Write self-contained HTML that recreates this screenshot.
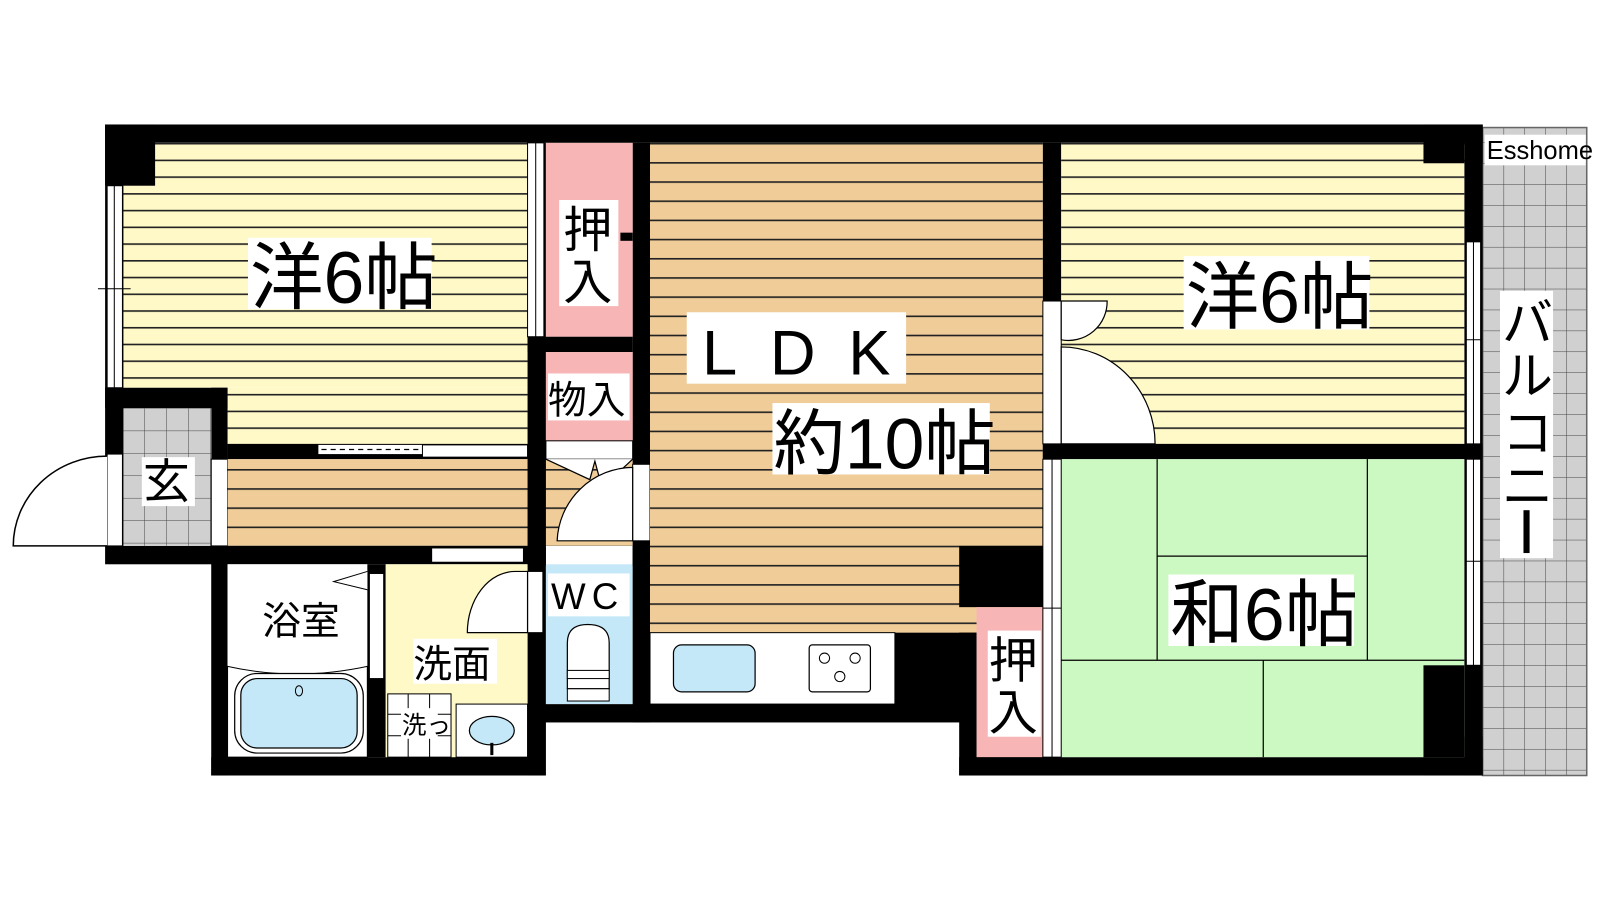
<!DOCTYPE html>
<html><head><meta charset="utf-8"><style>
html,body{margin:0;padding:0;background:#fff;width:1600px;height:900px;overflow:hidden}
svg{display:block}
text{font-family:"Liberation Sans","Noto Sans CJK JP",sans-serif;fill:#000}
</style></head><body>
<svg width="1600" height="900" viewBox="0 0 1568 882" preserveAspectRatio="none" xmlns="http://www.w3.org/2000/svg">
<defs>
<pattern id="ly" x="0" y="140" width="20" height="16.4" patternUnits="userSpaceOnUse"><rect width="20" height="16.4" fill="#fff9c8"/><rect y="0" width="20" height="1.6" fill="#222"/></pattern>
<pattern id="lo" x="0" y="140" width="20" height="18.8" patternUnits="userSpaceOnUse"><rect width="20" height="18.8" fill="#efcc98"/><rect y="0" width="20" height="1.6" fill="#222"/></pattern>
<pattern id="gr" x="120" y="400" width="21.5" height="22" patternUnits="userSpaceOnUse"><rect width="21.5" height="22" fill="#d0d0d0"/><path d="M0 0H21.5M0 0V22" stroke="#444" stroke-width="1"/></pattern>
<pattern id="gb" x="1453" y="160" width="20.5" height="20.5" patternUnits="userSpaceOnUse"><rect width="20.5" height="20.5" fill="#d0d0d0"/><path d="M0 0H20.5M0 0V20.5" stroke="#444" stroke-width="1"/></pattern>
</defs>

<!-- balcony -->
<rect x="1453" y="125" width="102" height="635" fill="url(#gb)" stroke="#666" stroke-width="1.5"/>
<rect x="1455" y="132" width="99" height="30" fill="#fff"/>
<text x="1457" y="156" font-size="25">Esshome</text>

<!-- main black outline -->
<rect x="103" y="122" width="1350" height="18" fill="#000"/>
<rect x="103" y="122" width="18" height="413" fill="#000"/>
<rect x="1435" y="122" width="18" height="638" fill="#000"/>
<rect x="1395" y="122" width="58" height="38" fill="#000"/>
<rect x="1395" y="722" width="58" height="38" fill="#000"/>
<rect x="103" y="535" width="430" height="18" fill="#000"/>
<rect x="207" y="535" width="16" height="225" fill="#000"/>
<rect x="207" y="742" width="326" height="18" fill="#000"/>
<rect x="517" y="535" width="18" height="225" fill="#000"/>
<rect x="517" y="690" width="440" height="18" fill="#000"/>
<rect x="940" y="535" width="100" height="225" fill="#000"/>
<rect x="940" y="742" width="513" height="18" fill="#000"/>

<!-- western room left -->
<rect x="121" y="140" width="396" height="240" fill="url(#ly)"/>
<rect x="223" y="380" width="294" height="55" fill="url(#ly)"/>
<rect x="103" y="122" width="49" height="60" fill="#000"/>
<rect x="103" y="380" width="120" height="20" fill="#000"/>
<rect x="207" y="380" width="16" height="70" fill="#000"/>
<rect x="223" y="435" width="294" height="15" fill="#000"/>
<rect x="312" y="436" width="102" height="9" fill="#fff"/>
<path d="M315 440.5H412" stroke="#000" stroke-width="1.2" stroke-dasharray="5,4"/>
<rect x="414" y="436" width="103" height="12" fill="#fff" stroke="#000" stroke-width="1"/>
<!-- window left -->
<rect x="105" y="182" width="15" height="198" fill="#fff" stroke="#000" stroke-width="1"/>
<path d="M112 182V380M96 283H128" stroke="#000" stroke-width="1"/>
<rect x="243" y="233" width="180" height="70" fill="#fff"/>
<text x="245" y="297" font-size="72">洋6帖</text>

<!-- genkan -->
<rect x="121" y="400" width="86" height="135" fill="url(#gr)"/>
<rect x="105" y="445" width="15" height="90" fill="#fff" stroke="#000" stroke-width="1"/>
<rect x="207" y="450" width="16" height="85" fill="#fff" stroke="#000" stroke-width="1"/>
<path d="M105 447A92 88 0 0 0 13 535H105" fill="#fff" stroke="#000" stroke-width="1.5"/>
<rect x="139" y="448" width="52" height="48" fill="#fff"/>
<text x="140" y="488" font-size="46">玄</text>

<!-- hall -->
<rect x="223" y="450" width="397" height="85" fill="url(#lo)"/>

<!-- closets -->
<rect x="517" y="140" width="18" height="415" fill="#000"/>
<rect x="620" y="140" width="17" height="415" fill="#000"/>
<rect x="517" y="140" width="16" height="190" fill="#fff" stroke="#000" stroke-width="1"/>
<path d="M525 140V330" stroke="#000" stroke-width="1"/>
<rect x="535" y="140" width="85" height="190" fill="#f7b5b5"/>
<rect x="548" y="196" width="58" height="104" fill="#fff"/>
<rect x="608" y="228" width="12" height="8" fill="#000"/>
<text x="552" y="242" font-size="48">押</text>
<text x="552" y="293" font-size="48">入</text>
<rect x="517" y="330" width="103" height="15" fill="#000"/>
<rect x="535" y="345" width="85" height="87" fill="#f7b5b5"/>
<rect x="537" y="366" width="80" height="46" fill="#fff"/>
<text x="537" y="405" font-size="38">物入</text>
<rect x="535" y="432" width="85" height="18" fill="#fff" stroke="#000" stroke-width="1"/>
<path d="M535 450L578 470L583 452L590 478L620 450" fill="#fff" stroke="#000" stroke-width="1.2"/>
<rect x="620" y="455" width="17" height="75" fill="#fff" stroke="#000" stroke-width="1"/>
<path d="M620 458A75 75 0 0 0 546 530H620Z" fill="#fff" stroke="#000" stroke-width="1.2"/>

<!-- LDK -->
<rect x="637" y="140" width="385" height="480" fill="url(#lo)"/>
<rect x="1022" y="140" width="18" height="310" fill="#000"/>
<rect x="637" y="620" width="240" height="70" fill="#fff" stroke="#000" stroke-width="1"/>
<rect x="660" y="632" width="80" height="46" rx="8" fill="#c5e8f8" stroke="#000" stroke-width="1.2"/>
<rect x="793" y="632" width="60" height="46" rx="3" fill="#fff" stroke="#000" stroke-width="1.2"/>
<circle cx="808" cy="645" r="5" fill="none" stroke="#000"/><circle cx="838" cy="645" r="5" fill="none" stroke="#000"/><circle cx="823" cy="663" r="5" fill="none" stroke="#000"/>
<rect x="877" y="620" width="80" height="80" fill="#000"/>
<rect x="940" y="535" width="82" height="60" fill="#000"/>
<rect x="673" y="306" width="215" height="70" fill="#fff"/>
<text x="688" y="367" font-size="62" letter-spacing="32">LDK</text>
<rect x="757" y="395" width="213" height="70" fill="#fff"/>
<text x="758" y="459" font-size="70">約10帖</text>

<!-- right closet -->
<rect x="957" y="595" width="65" height="147" fill="#f7b5b5"/>
<rect x="968" y="618" width="52" height="104" fill="#fff"/>
<text x="969" y="664" font-size="48">押</text>
<text x="969" y="715" font-size="48">入</text>

<!-- western room right -->
<rect x="1040" y="140" width="395" height="295" fill="url(#ly)"/>
<rect x="1395" y="122" width="40" height="38" fill="#000"/>
<rect x="1022" y="295" width="18" height="140" fill="#fff" stroke="#000" stroke-width="1"/>
<path d="M1040 295H1085A38 38 0 0 1 1040 333Z" fill="#fff" stroke="#000" stroke-width="1.2"/>
<path d="M1040 340A92 95 0 0 1 1132 435H1040Z" fill="#fff" stroke="#000" stroke-width="1.2"/>
<rect x="1022" y="435" width="431" height="15" fill="#000"/>
<rect x="1437" y="237" width="14" height="198" fill="#fff" stroke="#000" stroke-width="1"/>
<path d="M1444 237V435M1437 333H1451" stroke="#000" stroke-width="1"/>
<rect x="1160" y="251" width="182" height="72" fill="#fff"/>
<text x="1162" y="316" font-size="72">洋6帖</text>

<!-- tatami -->
<rect x="1040" y="450" width="395" height="292" fill="#ccf8c2"/>
<g stroke="#000" stroke-width="1.2" fill="none">
<path d="M1134 450V647M1340 450V647M1134 545H1340M1040 647H1435M1238 647V742"/>
</g>
<rect x="1395" y="652" width="40" height="90" fill="#000"/>
<rect x="1437" y="450" width="14" height="202" fill="#fff" stroke="#000" stroke-width="1"/>
<path d="M1444 450V652M1437 550H1451" stroke="#000" stroke-width="1"/>
<rect x="1022" y="450" width="18" height="292" fill="#fff" stroke="#000" stroke-width="1"/>
<path d="M1031 450V742M1022 596H1040" stroke="#000" stroke-width="1"/>
<rect x="1145" y="563" width="182" height="70" fill="#fff"/>
<text x="1147" y="627" font-size="72">和6帖</text>

<!-- balcony label -->
<rect x="1470" y="285" width="52" height="262" fill="#fff"/>
<text x="1472" y="334" font-size="50">バ</text>
<text x="1472" y="386" font-size="50">ル</text>
<text x="1472" y="442" font-size="50">コ</text>
<text x="1472" y="494" font-size="50">ニ</text>
<rect x="1493" y="500" width="6" height="42" fill="#000"/>

<!-- bath -->
<rect x="223" y="553" width="137" height="189" fill="#fff"/>
<rect x="360" y="553" width="18" height="189" fill="#000"/>
<rect x="362" y="562" width="14" height="103" fill="#fff" stroke="#000" stroke-width="1"/>
<path d="M360 560L327 570L360 578" fill="#fff" stroke="#000" stroke-width="1"/>
<text x="257" y="622" font-size="38">浴室</text>
<path d="M223 653Q290 668 360 653V742H223Z" fill="#fff" stroke="#000" stroke-width="1"/>
<rect x="230" y="660" width="126" height="78" rx="22" fill="#fff" stroke="#000" stroke-width="1.2"/>
<rect x="236" y="665" width="114" height="68" rx="16" fill="#c5e8f8" stroke="#000" stroke-width="1.2"/>
<ellipse cx="293" cy="677" rx="3.5" ry="5" fill="none" stroke="#000"/>
<rect x="423" y="537" width="90" height="14" fill="#fff" stroke="#000" stroke-width="1"/>
<!-- washroom -->
<rect x="378" y="553" width="139" height="189" fill="#fff9c8"/>
<rect x="517" y="560" width="15" height="60" fill="#fff" stroke="#000" stroke-width="1"/>
<path d="M517 560H505A47 60 0 0 0 458 620H517Z" fill="#fff" stroke="#000" stroke-width="1.2"/>
<rect x="405" y="626" width="82" height="44" fill="#fff"/>
<text x="405" y="664" font-size="38">洗面</text>
<rect x="380" y="680" width="62" height="62" fill="#fff" stroke="#000" stroke-width="1"/>
<path d="M400 680V742M421 680V742M380 700H442M380 721H442" stroke="#000" stroke-width="1"/>
<rect x="393" y="694" width="36" height="30" fill="#fff"/>
<text x="394" y="719" font-size="24">洗っ</text>
<rect x="447" y="690" width="70" height="52" fill="#fff" stroke="#000" stroke-width="1"/>
<ellipse cx="482" cy="716" rx="22" ry="14" fill="#c5e8f8" stroke="#000" stroke-width="1.2"/>
<path d="M482 728V740" stroke="#000" stroke-width="3"/>
<!-- WC -->
<rect x="535" y="553" width="85" height="137" fill="#c5e8f8"/>
<rect x="620" y="535" width="17" height="173" fill="#000"/>
<rect x="537" y="562" width="80" height="42" fill="#fff"/>
<text x="540" y="597" font-size="36" letter-spacing="6">WC</text>
<path d="M556 675V630Q556 612 576 612Q597 612 597 630V675Z" fill="#fff" stroke="#000" stroke-width="1.2"/>
<rect x="556" y="657" width="41" height="8" fill="#fff" stroke="#000" stroke-width="1"/>
<rect x="556" y="675" width="41" height="12" fill="#fff" stroke="#000" stroke-width="1"/>
</svg>
</body></html>
